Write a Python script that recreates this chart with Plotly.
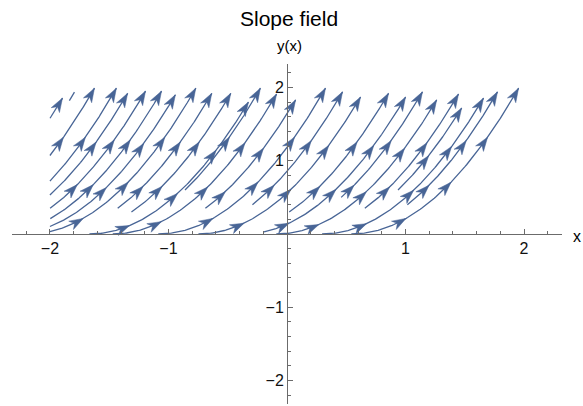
import numpy as np
import plotly.graph_objects as go

# ---- data ----
# ODE slope field y' = 2*sqrt(y); streamlines are y = (x - c)^2
stream_c = [-3.256, -3.185, -3.035, -2.85, -2.73, -2.59, -2.455, -2.32, -2.18, -2.02,
            -1.86, -1.667, -1.635, -1.47, -1.28, -1.086, -0.924, -0.747, -0.529, -0.367,
            -0.25, -0.09, 0.065, 0.162, 0.296, 0.383, 0.543]
stream_y_start = [1.58, 1.82, 1.07, 0.72, 0.53, 0.35, 0.21, 0.10, 0.03, 0.35,
                  0.30, 0.00, 0.60, 0.00, 0.35, 0.00, 0.40, 0.00, 0.30, 0.03,
                  0.50, 0.00, 0.35, 0.60, 0.00, 0.40, 0.00]
stream_y_end = [1.855, 1.937, 1.99, 1.99, 1.92, 1.95, 1.95, 1.90, 1.99, 1.92,
                1.92, 1.80, 1.99, 1.91, 1.83, 1.99, 1.94, 1.87, 1.92, 1.87,
                1.94, 1.83, 1.91, 1.72, 1.855, 1.94, 1.99]
x_tick_vals = [-2, -1, 1, 2]
y_tick_vals = [-2, -1, 1, 2]
minor_vals = [-2.2, -1.8, -1.6, -1.4, -1.2, -0.8, -0.6, -0.4, -0.2, 0.2, 0.4, 0.6, 0.8,
              1.2, 1.4, 1.6, 1.8, 2.2]
field_x_min = -2.0

# ---- layout geometry ----
W, H = 583, 406
L, T = 12, 64
pw, ph = 550, 340
R, B = W - L - pw, H - T - ph
XR = [-2.32, 2.32]
YR = [-2.32, 2.32]
sx = pw / (XR[1] - XR[0])
sy = ph / (YR[1] - YR[0])

COL = "rgb(72,101,150)"
AX = "#6b6b6b"

line_x, line_y, head_x, head_y = [], [], [], []
HEAD_LEN, HEAD_W, NOTCH, SPACING = 14.0, 4.8, 10.0, 58.0

for c, y0, y1 in zip(stream_c, stream_y_start, stream_y_end):
    xs0 = max(c + np.sqrt(y0), field_x_min)
    xs1 = c + np.sqrt(y1)
    xs = np.linspace(xs0, xs1, 120)
    ys = (xs - c) ** 2
    line_x += list(xs) + [None]
    line_y += list(ys) + [None]
    px, py = xs * sx, ys * sy
    seg = np.hypot(np.diff(px), np.diff(py))
    s = np.concatenate([[0], np.cumsum(seg)])
    st = s[-1]
    while st > HEAD_LEN + 1:
        tx = np.interp(st, s, xs)
        ty = (tx - c) ** 2
        dx, dy = sx, 2 * (tx - c) * sy
        n = np.hypot(dx, dy)
        ux, uy = dx / n, dy / n
        vx, vy = -uy, ux
        tpx, tpy = tx * sx, ty * sy
        bx, by = tpx - ux * HEAD_LEN, tpy - uy * HEAD_LEN
        nx_, ny_ = tpx - ux * NOTCH, tpy - uy * NOTCH
        pts = [(tpx, tpy), (bx + vx * HEAD_W, by + vy * HEAD_W), (nx_, ny_),
               (bx - vx * HEAD_W, by - vy * HEAD_W), (tpx, tpy)]
        head_x += [p[0] / sx for p in pts] + [None]
        head_y += [p[1] / sy for p in pts] + [None]
        st -= SPACING

fig = go.Figure()
fig.add_trace(go.Scatter(x=line_x, y=line_y, mode="lines",
                         line=dict(color=COL, width=1.3), hoverinfo="skip", showlegend=False))
fig.add_trace(go.Scatter(x=head_x, y=head_y, mode="lines", fill="toself", fillcolor=COL,
                         line=dict(color=COL, width=0.5), hoverinfo="skip", showlegend=False))

font = "Liberation Sans, Arial, sans-serif"
axis_common = dict(anchor="free", position=0.5, showgrid=False, zeroline=False,
                   automargin=False, showline=True, linecolor=AX, linewidth=1,
                   tickmode="array", ticks="inside", ticklen=5, tickcolor=AX,
                   tickfont=dict(size=16, family=font, color="#111"),
                   minor=dict(tickmode="array", tickvals=minor_vals, ticks="inside",
                              ticklen=3, tickcolor=AX))


def pap(px_ref, py_ref):
    """screen pixel -> paper coords"""
    return (px_ref - L) / pw, (H - B - py_ref) / ph


tx_, ty_ = pap(289, 18)
yx_, yy_ = pap(289, 46)
xx_, xy_ = pap(577, 236)
fig.update_layout(
    width=W, height=H, margin=dict(l=L, r=R, t=T, b=B, autoexpand=False),
    plot_bgcolor="white", paper_bgcolor="white",
    font=dict(family=font, color="#111"),
    xaxis=dict(range=XR, tickvals=x_tick_vals, **axis_common),
    yaxis=dict(range=YR, tickvals=y_tick_vals, **axis_common),
    annotations=[
        dict(text="Slope field", x=tx_, y=ty_, xref="paper", yref="paper",
             xanchor="center", yanchor="middle", showarrow=False,
             font=dict(size=21, family=font, color="#000")),
        dict(text="y(x)", x=yx_, y=yy_, xref="paper", yref="paper",
             xanchor="center", yanchor="middle", showarrow=False,
             font=dict(size=15, family=font, color="#000")),
        dict(text="x", x=xx_, y=xy_, xref="paper", yref="paper",
             xanchor="center", yanchor="middle", showarrow=False,
             font=dict(size=16, family=font, color="#000")),
    ],
)
fig.write_html("out.html", config={"displayModeBar": False},
               post_script="document.body.style.margin='0';document.body.style.overflow='hidden';")
